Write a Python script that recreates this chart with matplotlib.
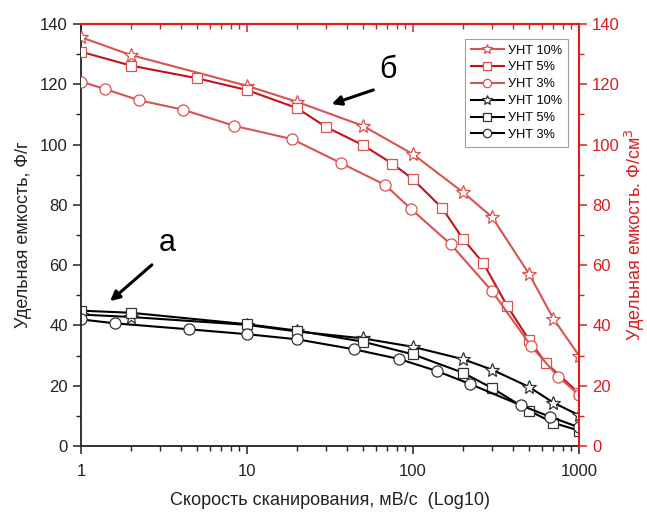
import matplotlib
matplotlib.use("Agg")
import matplotlib.pyplot as plt
from matplotlib.ticker import FixedLocator, MultipleLocator, LogLocator, NullFormatter

plt.rcParams['font.family'] = ['Liberation Sans', 'DejaVu Sans']

# ---- data ----
x_red10 = [1, 2, 10, 20, 50, 100, 200, 300, 500, 700, 1000]
y_red10 = [135.6, 129.7, 119.5, 114.2, 106.2, 96.8, 84.2, 75.9, 57.1, 42.3, 30.0]

x_red5 = [1, 2, 5, 10, 20, 30, 50, 75, 100, 150, 200, 265, 370, 500, 630, 1000]
y_red5 = [130.8, 126.2, 122.0, 118.1, 112.1, 105.8, 99.8, 93.7, 88.5, 78.9, 68.7, 60.7, 46.4, 35.2, 27.6, 17.5]

x_red3 = [1, 1.4, 2.24, 4.1, 8.4, 18.7, 37, 68, 97, 169, 300, 515, 750, 1000]
y_red3 = [120.9, 118.4, 114.7, 111.6, 106.2, 101.8, 93.8, 86.6, 78.7, 66.9, 51.3, 33.1, 23.0, 17.0]

x_blk10 = [1, 2, 10, 20, 50, 100, 200, 300, 500, 700, 1000]
y_blk10 = [43.6, 42.8, 40.2, 38.0, 35.7, 32.9, 28.8, 25.3, 19.6, 14.4, 10.2]

x_blk5 = [1, 2, 10, 20, 50, 100, 200, 300, 500, 700, 1000]
y_blk5 = [44.9, 44.2, 40.4, 38.3, 34.6, 30.4, 24.3, 19.2, 11.7, 7.7, 5.1]

x_blk3 = [1, 1.6, 4.5, 10, 20, 44, 82, 139, 222, 447, 669, 1000]
y_blk3 = [42.0, 40.7, 38.7, 37.1, 35.4, 32.1, 28.9, 24.9, 20.5, 13.5, 9.7, 6.2]

labels = ['УНТ 10%', 'УНТ 5%', 'УНТ 3%']
x_ticks = [1, 10, 100, 1000]
x_ticklabels = ['1', '10', '100', '1000']
y_ticks = [0, 20, 40, 60, 80, 100, 120, 140]

RED_AX = '#d81e1e'
RED_L = '#d9534f'
RED_D = '#c0141a'

W, H = 647, 512
fig = plt.figure(figsize=(6.47, 5.12), dpi=100)
ax = fig.add_axes([0.1252, 0.1289, 0.7697, 0.8242])
ax2 = ax.twinx()

ms = 7
mew = 0.9
lw = 1.5
# black series (left axis)
hb1, = ax.plot(x_blk10, y_blk10, color='black', lw=lw, marker='*', ms=ms + 3,
               mfc='white', mec='#333333', mew=mew, label=labels[0], clip_on=True)
hb2, = ax.plot(x_blk5, y_blk5, color='black', lw=lw, marker='s', ms=ms,
               mfc='white', mec='#333333', mew=mew, label=labels[1], clip_on=True)
hb3, = ax.plot(x_blk3, y_blk3, color='black', lw=lw, marker='o', ms=ms + 1,
               mfc='white', mec='#333333', mew=mew, label=labels[2], clip_on=True)

# red series (right axis)
hr1, = ax2.plot(x_red10, y_red10, color=RED_L, lw=lw, marker='*', ms=ms + 3,
                mfc='white', mec=RED_L, mew=mew, label=labels[0], clip_on=True)
hr2, = ax2.plot(x_red5, y_red5, color=RED_D, lw=lw, marker='s', ms=ms,
                mfc='white', mec=RED_L, mew=mew, label=labels[1], clip_on=True)
hr3, = ax2.plot(x_red3, y_red3, color=RED_L, lw=lw, marker='o', ms=ms + 1,
                mfc='white', mec=RED_L, mew=mew, label=labels[2], clip_on=True)

for a in (ax, ax2):
    a.set_xscale('log')
    a.set_xlim(1, 1000)
    a.set_ylim(0, 140)

ax.xaxis.set_major_locator(FixedLocator(x_ticks))
ax.set_xticklabels(x_ticklabels)
ax.xaxis.set_minor_locator(LogLocator(base=10, subs=range(2, 10)))
ax.xaxis.set_minor_formatter(NullFormatter())
ax.yaxis.set_major_locator(FixedLocator(y_ticks))
ax.yaxis.set_minor_locator(MultipleLocator(10))
ax2.yaxis.set_major_locator(FixedLocator(y_ticks))
ax2.yaxis.set_minor_locator(MultipleLocator(10))

ax.tick_params(axis='both', which='major', direction='out', length=6, width=1.1,
               labelsize=12, colors='#222222', top=False, right=False)
ax.tick_params(axis='both', which='minor', direction='out', length=3.5, width=1.0,
               colors='#222222', top=False, right=False)
ax.tick_params(axis='x', pad=7)
ax2.tick_params(axis='y', which='major', direction='out', length=6, width=1.1,
                labelsize=12, colors=RED_AX)
ax2.tick_params(axis='y', which='minor', direction='out', length=3.5, width=1.0, colors=RED_AX)

for s in ('left', 'bottom'):
    ax.spines[s].set_color('#222222')
    ax.spines[s].set_linewidth(1.3)
ax2.spines['right'].set_color(RED_AX)
ax2.spines['right'].set_linewidth(1.5)
ax2.spines['top'].set_color(RED_AX)
ax2.spines['top'].set_linewidth(1.5)
ax2.spines['left'].set_visible(False)
ax2.spines['bottom'].set_visible(False)
ax.spines['top'].set_visible(False)
ax.spines['right'].set_visible(False)

sec = ax.secondary_xaxis('top')
sec.xaxis.set_major_locator(FixedLocator(x_ticks))
sec.xaxis.set_minor_locator(LogLocator(base=10, subs=range(2, 10)))
sec.tick_params(axis='x', which='major', direction='in', length=6, width=1.1,
                colors=RED_AX, labeltop=False)
sec.tick_params(axis='x', which='minor', direction='in', length=3.5, width=1.0,
                colors=RED_AX, labeltop=False)
sec.xaxis.set_minor_formatter(NullFormatter())
sec.spines['top'].set_color(RED_AX)
sec.spines['top'].set_linewidth(1.5)

ax.set_xlabel('Скорость сканирования, мВ/с  (Log10)', fontsize=13, color='#222222', labelpad=9)
ax.set_ylabel('Удельная емкость, Ф/г', fontsize=13, color='#222222', labelpad=6)
ax2.set_ylabel('Удельная емкость. Ф/см$^3$', fontsize=13, color=RED_AX, labelpad=2)

# annotations (figure pixels measured from the top-left corner, converted)
ax2.annotate('', xy=(329, H - 105), xytext=(376, H - 89), xycoords='figure pixels',
             textcoords='figure pixels',
             arrowprops=dict(arrowstyle='-|>', color='black', lw=2.2, mutation_scale=14))
fig.text(388 / W, 1 - 70 / H, 'б', fontsize=22, ha='center', va='center')
ax2.annotate('', xy=(108, H - 303), xytext=(154, H - 263), xycoords='figure pixels',
             textcoords='figure pixels',
             arrowprops=dict(arrowstyle='-|>', color='black', lw=2.2, mutation_scale=14))
fig.text(167 / W, 1 - 243 / H, 'а', fontsize=22, ha='center', va='center')

leg = ax2.legend(handles=[hr1, hr2, hr3, hb1, hb2, hb3], loc='upper right',
                 bbox_to_anchor=(0.99, 0.98), fontsize=9.2, frameon=True, fancybox=False,
                 edgecolor='#888888', handlelength=2.6, handletextpad=0.3,
                 labelspacing=0.38, borderpad=0.45, markerscale=0.75)
leg.get_frame().set_linewidth(0.8)

fig.savefig('out.png', dpi=100)
